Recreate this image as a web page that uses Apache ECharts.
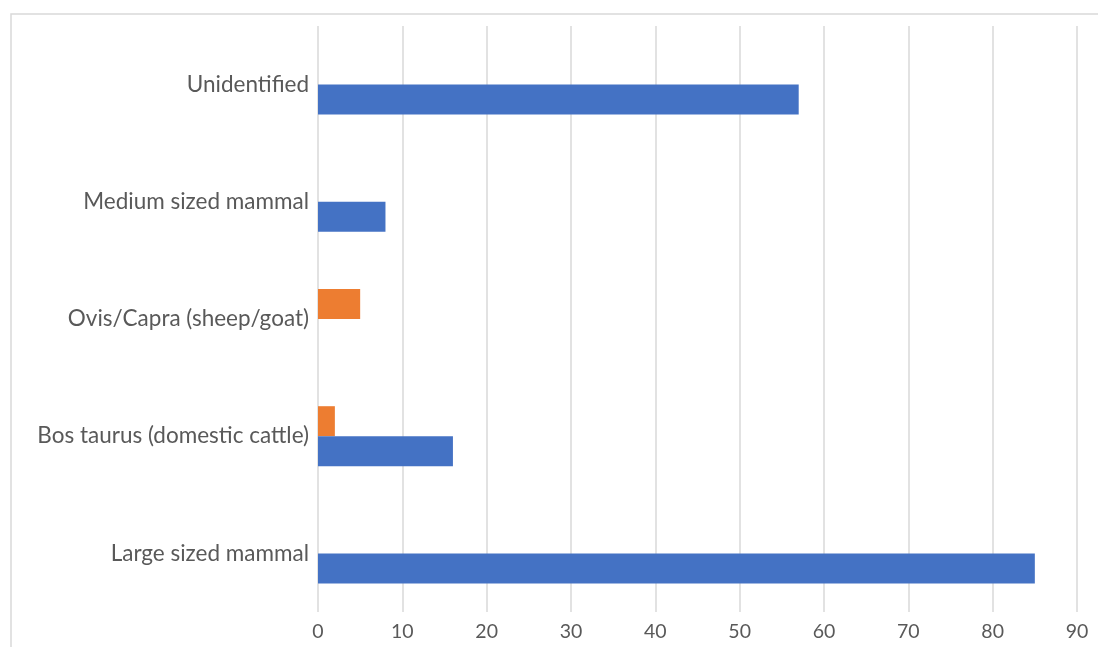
<!DOCTYPE html>
<html>
<head>
<meta charset="utf-8">
<script src="https://cdn.jsdelivr.net/npm/echarts@6/dist/echarts.min.js"></script>
<style>
  html, body { margin: 0; padding: 0; background: #fff; }
  #chart { width: 1098px; height: 647px; }
</style>
</head>
<body>
<div id="chart"></div>
<script>
// Categories, bottom to top
const categories = [
  'Large sized mammal',
  'Bos taurus (domestic cattle)',
  'Ovis/Capra (sheep/goat)',
  'Medium sized mammal',
  'Unidentified'
];
// Blue series values
const blueValues = [85, 16, null, 8, 57];
// Orange series values
const orangeValues = [null, 2, 5, null, null];
// Value axis ticks
const axisMin = 0;
const axisMax = 90;
const axisStep = 10;

const FONT = 'Lato';
const TEXT = '#595959';

const chart = echarts.init(document.getElementById('chart'), null, { renderer: 'canvas' });
chart.setOption({
  animation: false,
  backgroundColor: '#ffffff',
  graphic: [{
    type: 'rect',
    shape: { x: 11, y: 14, width: 1200, height: 800 },
    style: { fill: 'none', stroke: '#d9d9d9', lineWidth: 1.5 },
    z: -1
  }],
  grid: { left: 318, right: 21, top: 26, bottom: 35, containLabel: false },
  xAxis: {
    type: 'value',
    min: axisMin,
    max: axisMax,
    interval: axisStep,
    axisLine: { show: false },
    axisTick: { show: false },
    splitLine: { show: true, lineStyle: { color: '#d9d9d9', width: 1.5 } },
    axisLabel: { color: TEXT, fontFamily: FONT, fontSize: 19.5, margin: 10 }
  },
  yAxis: {
    type: 'category',
    data: categories,
    axisLine: { show: false },
    axisTick: { show: false },
    splitLine: { show: false },
    axisLabel: { color: TEXT, fontFamily: FONT, fontSize: 22.5, margin: 9 }
  },
  series: [
    {
      name: 'Orange',
      type: 'bar',
      data: orangeValues,
      barWidth: 30,
      barGap: '0%',
      itemStyle: { color: '#ed7d31' }
    },
    {
      name: 'Blue',
      type: 'bar',
      data: blueValues,
      barWidth: 30,
      barGap: '0%',
      itemStyle: { color: '#4472c4' }
    }
  ]
});
</script>
</body>
</html>
